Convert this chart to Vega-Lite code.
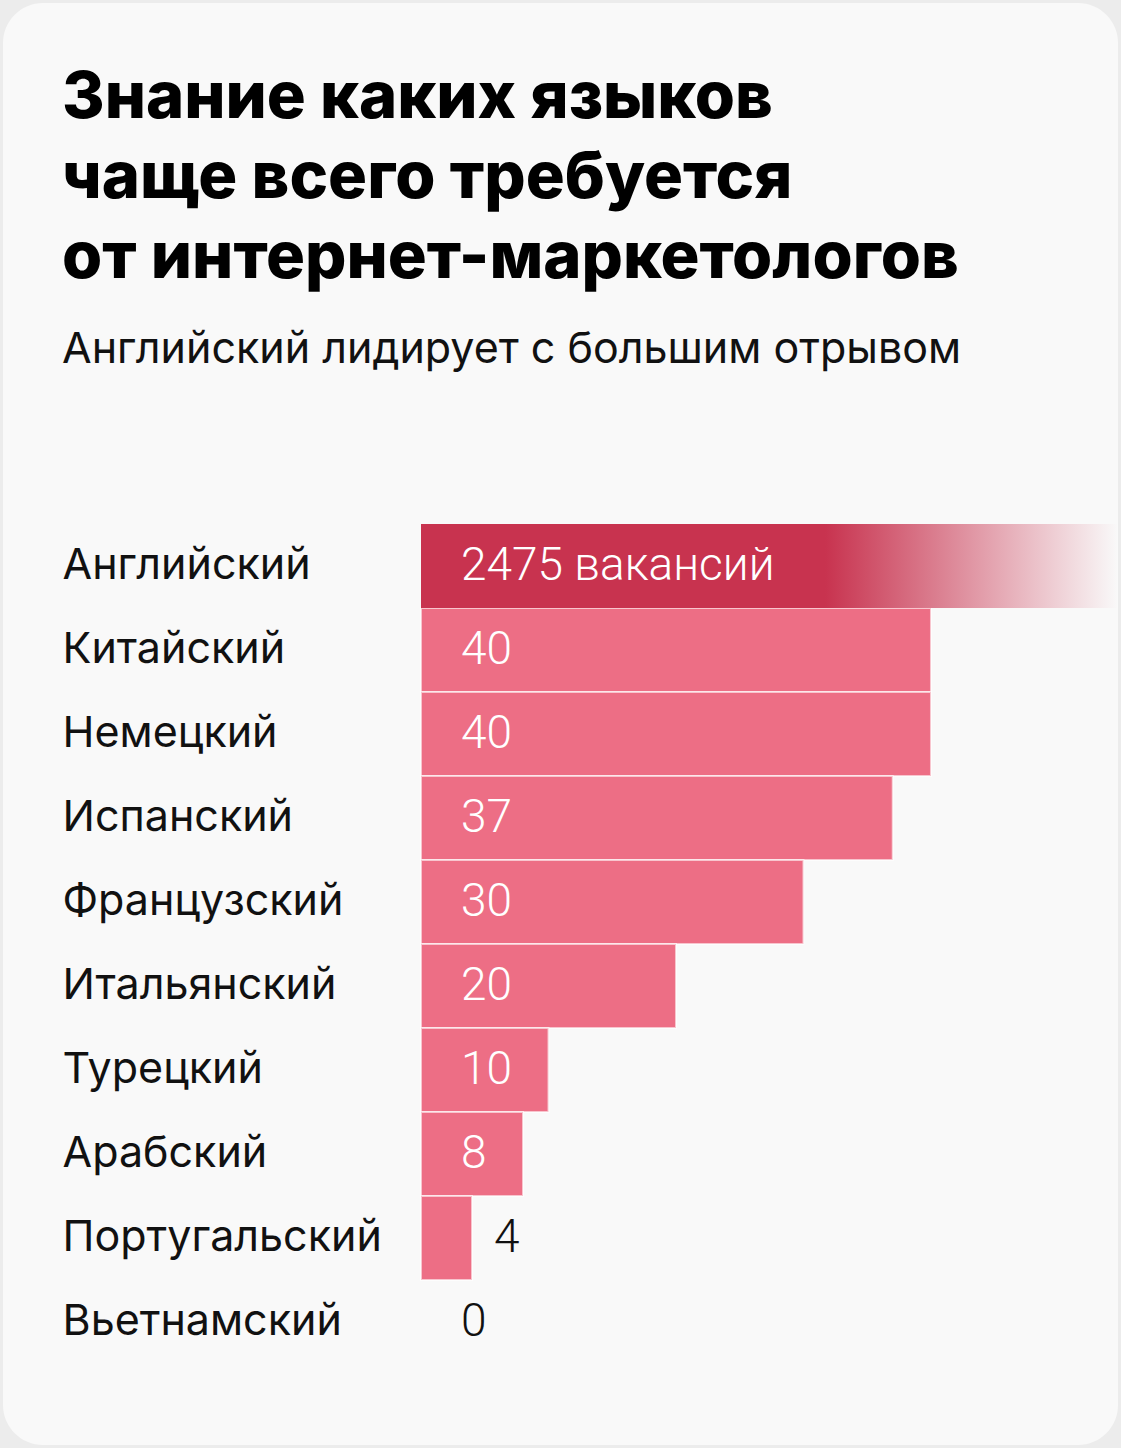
{
  "$schema": "https://vega.github.io/schema/vega-lite/v6.json",
  "width": 1115,
  "height": 1442,
  "autosize": {"type": "none"},
  "padding": 3,
  "background": "#ececec",
  "config": {
    "view": {"fill": "#f9f9f9", "stroke": null, "cornerRadius": 40},
    "font": "Inter"
  },
  "title": {
    "text": ["Знание каких языков", "чаще всего требуется", "от интернет-маркетологов"],
    "subtitle": "Английский лидирует с большим отрывом",
    "anchor": "start",
    "frame": "group",
    "orient": "top",
    "offset": -370,
    "dx": 59,
    "font": "Inter",
    "fontSize": 65,
    "fontWeight": 800,
    "lineHeight": 80,
    "color": "#000000",
    "subtitleFont": "Inter",
    "subtitleFontSize": 43,
    "subtitleColor": "#111111",
    "subtitlePadding": 37
  },
  "data": {
    "values": [
      {"language": "Английский", "value": 2475, "label": "2475 вакансий"},
      {"language": "Китайский", "value": 40, "label": "40"},
      {"language": "Немецкий", "value": 40, "label": "40"},
      {"language": "Испанский", "value": 37, "label": "37"},
      {"language": "Французский", "value": 30, "label": "30"},
      {"language": "Итальянский", "value": 20, "label": "20"},
      {"language": "Турецкий", "value": 10, "label": "10"},
      {"language": "Арабский", "value": 8, "label": "8"},
      {"language": "Португальский", "value": 4, "label": "4"},
      {"language": "Вьетнамский", "value": 0, "label": "0"}
    ]
  },
  "encoding": {
    "y": {
      "field": "language",
      "type": "nominal",
      "scale": {
        "domain": ["Английский", "Китайский", "Немецкий", "Испанский", "Французский", "Итальянский", "Турецкий", "Арабский", "Португальский", "Вьетнамский"],
        "range": [521, 1361], "paddingInner": 0, "paddingOuter": 0
      },
      "axis": {
        "title": null,
        "domain": false,
        "ticks": false,
        "grid": false,
        "labelAlign": "left",
        "labelBaseline": "middle",
        "labelPadding": -59,
        "labelFontSize": 43,
        "labelFont": "Inter",
        "labelColor": "#111111",
        "labelLimit": 0
      }
    }
  },
  "layer": [
    {
      "transform": [{"filter": "datum.value > 0 && datum.value < 1000"}],
      "mark": {"type": "bar", "color": "#ed6e85", "stroke": "#ffffff", "strokeWidth": 2, "strokeOpacity": 0.6, "cornerRadius": 0},
      "encoding": {
        "x": {"field": "value", "type": "quantitative", "scale": {"domain": [0, 54.67], "range": [418, 1115], "clamp": true, "nice": false, "zero": true}, "axis": null}
      }
    },
    {
      "transform": [{"filter": "datum.value >= 1000"}],
      "mark": {
        "type": "bar",
        "color": {
          "gradient": "linear", "x1": 0, "y1": 0, "x2": 1, "y2": 0,
          "stops": [
            {"offset": 0, "color": "#c8334f"},
            {"offset": 0.58, "color": "#c8334f"},
            {"offset": 1, "color": "rgba(200,51,79,0)"}
          ]
        },
        "strokeWidth": 0
      },
      "encoding": {
        "x": {"field": "value", "type": "quantitative", "scale": {"domain": [0, 54.67], "range": [418, 1115], "clamp": true, "nice": false, "zero": true}, "axis": null}
      }
    },
    {
      "transform": [{"filter": "datum.value != 4"}],
      "mark": {"type": "text", "align": "left", "baseline": "middle", "dx": 40, "fontSize": 46, "font": "Roboto", "fontWeight": 300},
      "encoding": {
        "x": {"datum": 0, "type": "quantitative"},
        "text": {"field": "label"},
        "color": {"condition": {"test": "datum.value > 0", "value": "#ffffff"}, "value": "#111111"}
      }
    },
    {
      "transform": [{"filter": "datum.value == 4"}],
      "mark": {"type": "text", "align": "left", "baseline": "middle", "dx": 22, "fontSize": 46, "font": "Roboto", "fontWeight": 300, "color": "#111111"},
      "encoding": {
        "x": {"field": "value", "type": "quantitative"},
        "text": {"field": "label"}
      }
    }
  ]
}
